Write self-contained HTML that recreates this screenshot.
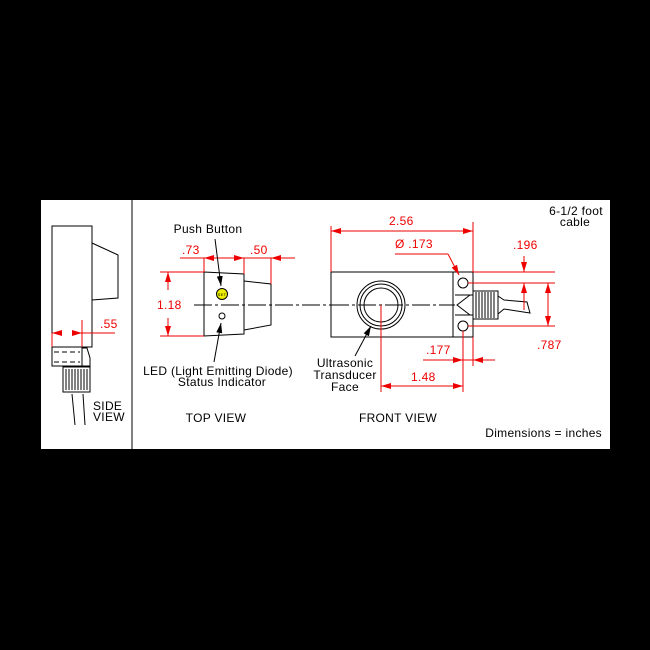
<!DOCTYPE html>
<html><head><meta charset="utf-8"><style>
html,body{margin:0;padding:0;background:#000;}
svg{display:block;}
text{font-family:"Liberation Sans",sans-serif;font-size:12px;letter-spacing:0.3px;}
.k{stroke:#000;stroke-width:1;fill:none;}
.r{stroke:#e00;stroke-width:1;fill:none;}
.rt{fill:#e00;}
</style></head><body>
<svg width="650" height="650" viewBox="0 0 650 650" xmlns="http://www.w3.org/2000/svg">
<defs>
<marker id="a" viewBox="0 0 10 6" refX="10" refY="3" markerWidth="10" markerHeight="6" markerUnits="userSpaceOnUse" orient="auto"><path d="M0,0L10,3L0,6z" fill="#e00"/></marker>
<marker id="b" viewBox="0 0 10 6" refX="10" refY="3" markerWidth="10" markerHeight="6" markerUnits="userSpaceOnUse" orient="auto"><path d="M0,0L10,3L0,6z" fill="#000"/></marker>
</defs>
<rect x="0" y="0" width="650" height="650" fill="#000"/>
<rect x="41" y="200" width="569" height="249" fill="#fff"/>
<line x1="132" y1="200" x2="132" y2="449" class="k"/>

<!-- SIDE VIEW -->
<rect x="52" y="226" width="40" height="121" class="k"/>
<path d="M92,243L118,255L118,298L92,300" class="k"/>
<rect x="52" y="347" width="30" height="19" class="k"/>
<line x1="54" y1="352" x2="80" y2="352" class="k" stroke-dasharray="5,3"/>
<line x1="54" y1="362" x2="80" y2="362" class="k" stroke-dasharray="5,3"/>
<path d="M82,348L87,348L90,358L90,366L82,366" class="k"/>
<rect x="63" y="367" width="27" height="25" class="k"/>
<g class="k" stroke-width="0.8">
<line x1="66" y1="369" x2="66" y2="390"/><line x1="69" y1="369" x2="69" y2="390"/><line x1="72" y1="369" x2="72" y2="390"/><line x1="75" y1="369" x2="75" y2="390"/><line x1="78" y1="369" x2="78" y2="390"/><line x1="81" y1="369" x2="81" y2="390"/><line x1="84" y1="369" x2="84" y2="390"/><line x1="87" y1="369" x2="87" y2="390"/>
</g>
<line x1="72" y1="394" x2="75" y2="425" class="k"/>
<line x1="83" y1="394" x2="85" y2="425" class="k"/>
<line x1="52" y1="333" x2="52" y2="347" class="r"/>
<line x1="82" y1="320" x2="82" y2="347" class="r"/>
<line x1="62" y1="333" x2="52" y2="333" class="r" marker-end="url(#a)"/>
<line x1="72" y1="333" x2="82" y2="333" class="r" marker-end="url(#a)"/>
<line x1="82" y1="333" x2="115" y2="333" class="r"/>
<text x="100" y="328" class="rt">.55</text>
<text x="93" y="410">SIDE</text>
<text x="93" y="421">VIEW</text>

<!-- TOP VIEW -->
<line x1="194" y1="305" x2="331" y2="305" class="k" stroke-dasharray="18,3,3,3"/>
<path d="M204,272L244,274L244,334L204,336Z" class="k" fill="#fff"/>
<path d="M244,281L271,284L271,325L244,330" class="k"/>
<circle cx="222" cy="294" r="5.5" fill="#ee0" stroke="#000"/>
<text x="222" y="296" text-anchor="middle" style="font-size:4px">SET</text>
<circle cx="222" cy="316" r="3" class="k"/>
<line x1="204" y1="258" x2="204" y2="272" class="r"/>
<line x1="244" y1="258" x2="244" y2="274" class="r"/>
<line x1="271" y1="258" x2="271" y2="284" class="r"/>
<line x1="180" y1="258" x2="295" y2="258" class="r"/>
<line x1="214" y1="258" x2="204" y2="258" class="r" marker-end="url(#a)"/>
<line x1="234" y1="258" x2="244" y2="258" class="r" marker-end="url(#a)"/>
<line x1="282" y1="258" x2="271" y2="258" class="r" marker-end="url(#a)"/>
<text x="182" y="254" class="rt">.73</text>
<text x="250" y="254" class="rt">.50</text>
<line x1="160" y1="272" x2="204" y2="272" class="r"/>
<line x1="160" y1="336" x2="204" y2="336" class="r"/>
<line x1="168" y1="290" x2="168" y2="272" class="r" marker-end="url(#a)"/>
<line x1="168" y1="318" x2="168" y2="336" class="r" marker-end="url(#a)"/>
<text x="157" y="309" class="rt">1.18</text>
<text x="208" y="233" text-anchor="middle">Push Button</text>
<line x1="215" y1="239" x2="221" y2="286" class="k" marker-end="url(#b)"/>
<line x1="214" y1="362" x2="221" y2="323" class="k" marker-end="url(#b)"/>
<text x="218" y="375" text-anchor="middle">LED (Light Emitting Diode)</text>
<text x="222" y="386" text-anchor="middle">Status Indicator</text>
<text x="216" y="422" text-anchor="middle">TOP VIEW</text>

<!-- FRONT VIEW -->
<line x1="331" y1="305" x2="455" y2="305" class="k" stroke-dasharray="18,3,3,3"/>
<rect x="331" y="272" width="142" height="65" class="k"/>
<line x1="453" y1="272" x2="453" y2="337" class="k"/>
<circle cx="381" cy="305" r="24" class="k"/>
<circle cx="381" cy="305" r="21" class="k"/>
<circle cx="381" cy="305" r="17" class="k"/>
<line x1="381" y1="305" x2="381" y2="392" class="r"/>
<circle cx="463" cy="283" r="5" class="k"/>
<circle cx="463" cy="326" r="5" class="k"/>
<path d="M455,295L473,295M455,315L473,315M470,295L457,305L470,315" class="k"/>
<rect x="473" y="291" width="25" height="28" class="k"/>
<g class="k" stroke-width="0.8">
<line x1="476" y1="292" x2="476" y2="318"/><line x1="479" y1="292" x2="479" y2="318"/><line x1="482" y1="292" x2="482" y2="318"/><line x1="485" y1="292" x2="485" y2="318"/><line x1="488" y1="292" x2="488" y2="318"/><line x1="491" y1="292" x2="491" y2="318"/><line x1="494" y1="292" x2="494" y2="318"/>
</g>
<path d="M498,296L504,300L527,302L530,313L504,309L498,314" class="k"/>
<!-- 2.56 -->
<line x1="331" y1="226" x2="331" y2="272" class="r"/>
<line x1="473" y1="222" x2="473" y2="272" class="r"/>
<line x1="331" y1="231" x2="473" y2="231" class="r"/>
<line x1="345" y1="231" x2="331" y2="231" class="r" marker-end="url(#a)"/>
<line x1="460" y1="231" x2="473" y2="231" class="r" marker-end="url(#a)"/>
<text x="389" y="225" class="rt">2.56</text>
<text x="395" y="248" class="rt">Ø .173</text>
<path d="M395,254L448,254" class="r"/>
<line x1="448" y1="254" x2="459" y2="275" class="r" marker-end="url(#a)"/>
<!-- .196 / .787 -->
<line x1="473" y1="272" x2="555" y2="272" class="r"/>
<line x1="468" y1="283" x2="555" y2="283" class="r"/>
<line x1="468" y1="326" x2="555" y2="326" class="r"/>
<line x1="524" y1="256" x2="524" y2="272" class="r" marker-end="url(#a)"/>
<line x1="524" y1="310" x2="524" y2="283" class="r" marker-end="url(#a)"/>
<text x="513" y="249" class="rt">.196</text>
<line x1="548" y1="283" x2="548" y2="326" class="r"/>
<line x1="548" y1="296" x2="548" y2="283" class="r" marker-end="url(#a)"/>
<line x1="548" y1="313" x2="548" y2="326" class="r" marker-end="url(#a)"/>
<text x="537" y="349" class="rt">.787</text>
<!-- .177 -->
<line x1="463" y1="331" x2="463" y2="392" class="r"/>
<line x1="473" y1="337" x2="473" y2="366" class="r"/>
<line x1="423" y1="360" x2="495" y2="360" class="r"/>
<line x1="453" y1="360" x2="463" y2="360" class="r" marker-end="url(#a)"/>
<line x1="484" y1="360" x2="473" y2="360" class="r" marker-end="url(#a)"/>
<text x="426" y="354" class="rt">.177</text>
<!-- 1.48 -->
<line x1="381" y1="386" x2="463" y2="386" class="r"/>
<line x1="393" y1="386" x2="381" y2="386" class="r" marker-end="url(#a)"/>
<line x1="451" y1="386" x2="463" y2="386" class="r" marker-end="url(#a)"/>
<text x="411" y="381" class="rt">1.48</text>
<text x="345" y="367" text-anchor="middle">Ultrasonic</text>
<text x="345" y="379" text-anchor="middle">Transducer</text>
<text x="345" y="391" text-anchor="middle">Face</text>
<line x1="355" y1="356" x2="371" y2="326" class="k" marker-end="url(#b)"/>
<text x="398" y="422" text-anchor="middle">FRONT  VIEW</text>
<text x="602" y="437" text-anchor="end">Dimensions = inches</text>
<text x="576" y="215" text-anchor="middle">6-1/2 foot</text>
<text x="575" y="226" text-anchor="middle">cable</text>
</svg>
</body></html>
